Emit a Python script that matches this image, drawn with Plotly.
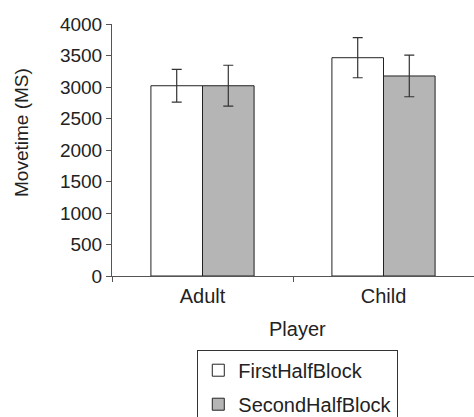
import plotly.graph_objects as go

# Mean move time per player group, split by half of the block
players = ["Adult", "Child"]
first_half = [3020, 3465]
second_half = [3020, 3175]
first_half_err = [260, 318]
second_half_err = [325, 330]

series_names = ["FirstHalfBlock", "SecondHalfBlock"]
y_ticks = [0, 500, 1000, 1500, 2000, 2500, 3000, 3500, 4000]

ink = "#222222"
axis_grey = "#555555"
font_family = "Arial, Liberation Sans, sans-serif"

fig = go.Figure()
for name, vals, errs, colour in [
    (series_names[0], first_half, first_half_err, "#ffffff"),
    (series_names[1], second_half, second_half_err, "#b4b5b4"),
]:
    fig.add_trace(go.Bar(
        name=name,
        x=players,
        y=vals,
        legendgroup=name,
        marker=dict(color=colour, line=dict(color=ink, width=1)),
        error_y=dict(type="data", array=errs, visible=True,
                     color="#333333", thickness=1.2, width=5),
    ))

fig.update_layout(
    width=474, height=417,
    margin=dict(l=112, r=0, t=24, b=141, autoexpand=False),
    paper_bgcolor="white", plot_bgcolor="white",
    font=dict(family=font_family, size=20, color=ink),
    barmode="group", bargap=0.43, bargroupgap=0,
    showlegend=True,
    legend=dict(
        x=0.2356, y=-0.2925, xanchor="left", yanchor="top",
        bordercolor="#333333", borderwidth=1, bgcolor="white",
        font=dict(size=20, color=ink),
        traceorder="grouped", tracegroupgap=5,
    ),
    xaxis=dict(
        showline=True, linecolor=axis_grey, linewidth=1,
        ticks="outside", ticklen=5, tickcolor=axis_grey,
        tickson="boundaries", showgrid=False, zeroline=False,
        tickfont=dict(size=20, color=ink), ticklabelstandoff=2,
    ),
    yaxis=dict(
        range=[0, 4000], tickvals=y_ticks,
        showline=True, linecolor=axis_grey, linewidth=1,
        ticks="outside", ticklen=5, tickcolor=axis_grey,
        showgrid=False, zeroline=False,
        tickfont=dict(size=19, color=ink),
    ),
    annotations=[
        dict(text="Movetime (MS)", textangle=-90, showarrow=False,
             xref="paper", yref="paper", x=-0.2486, y=0.5675,
             xanchor="center", yanchor="middle",
             font=dict(size=19, color=ink)),
        dict(text="Player", showarrow=False,
             xref="paper", yref="paper", x=0.512, y=-0.2103,
             xanchor="center", yanchor="middle",
             font=dict(size=20, color=ink)),
    ],
)

fig.write_html("out.html")
